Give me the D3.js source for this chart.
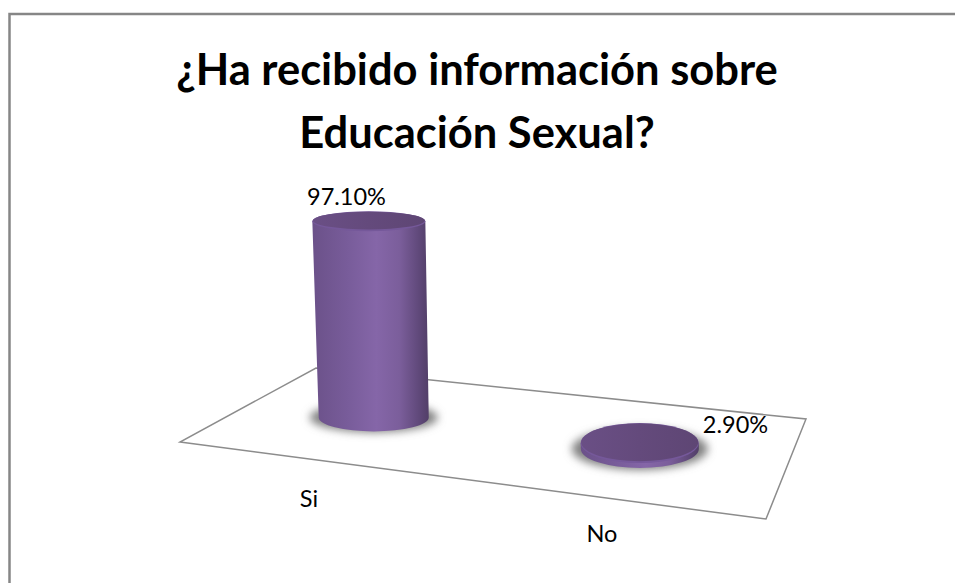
<!DOCTYPE html>
<meta charset="utf-8">
<style>
body { margin: 0; background: #fff; overflow: hidden; }
svg { display: block; }
text { font-family: Lato, sans-serif; fill: #000; }
.title { font-size: 43.5px; font-weight: 700; text-anchor: middle; }
.label { font-size: 23.5px; text-anchor: middle; }
</style>
<body>
<script src="https://d3js.org/d3.v7.min.js"></script>
<script>
var categories = ["Si", "No"];
var values = [97.1, 2.9];
var valueLabels = ["97.10%", "2.90%"];
var titleLines = ["¿Ha recibido información sobre", "Educación Sexual?"];

var width = 955, height = 583;

var svg = d3.select("body").append("svg")
    .attr("width", width)
    .attr("height", height);

var defs = svg.append("defs");

// cylinder side shading
var grad = defs.append("linearGradient").attr("id", "side");
[[0, "#6b5189"], [0.3, "#785c9a"], [0.55, "#8566a8"], [0.75, "#7b5e9b"], [0.92, "#5f4879"], [1, "#523f68"]].forEach(function(s) {
  grad.append("stop").attr("offset", s[0]).attr("stop-color", s[1]);
});
var topGrad = defs.append("linearGradient").attr("id", "top");
[[0, "#6a4f85"], [0.5, "#644a7c"], [1, "#5e4674"]].forEach(function(s) {
  topGrad.append("stop").attr("offset", s[0]).attr("stop-color", s[1]);
});
defs.append("filter").attr("id", "blur")
    .attr("x", "-20%").attr("y", "-50%").attr("width", "140%").attr("height", "200%")
  .append("feGaussianBlur").attr("stdDeviation", 4);

// outer frame, runs off the right and bottom of the picture
svg.append("rect")
    .attr("x", 9.5).attr("y", 14)
    .attr("width", 1000).attr("height", 640)
    .attr("fill", "#fff")
    .attr("stroke", "#868686")
    .attr("stroke-width", 2.5);

// title
svg.selectAll(".title").data(titleLines).enter().append("text")
    .attr("class", "title")
    .attr("x", 477)
    .attr("y", function(d, i) { return 85 + i * 63; })
    .text(function(d) { return d; });

// floor is a skewed quadrilateral, u runs along the categories, v runs front to back
var floorCorners = { fl: [180, 442], fr: [766, 519], br: [806, 419], bl: [316, 368] };
function floor(u, v) {
  var fx = floorCorners.fl[0] + (floorCorners.fr[0] - floorCorners.fl[0]) * u,
      fy = floorCorners.fl[1] + (floorCorners.fr[1] - floorCorners.fl[1]) * u,
      bx = floorCorners.bl[0] + (floorCorners.br[0] - floorCorners.bl[0]) * u,
      by = floorCorners.bl[1] + (floorCorners.br[1] - floorCorners.bl[1]) * u;
  return [fx + (bx - fx) * v, fy + (by - fy) * v];
}

var x = d3.scalePoint().domain(categories).range([0.228, 0.725]);
var h = d3.scaleLinear().domain([0, 100]).range([0, 202]);

svg.append("path")
    .attr("d", d3.line()([floorCorners.fl, floorCorners.fr, floorCorners.br, floorCorners.bl]) + "Z")
    .attr("fill", "none")
    .attr("stroke", "#8c8c8c")
    .attr("stroke-width", 1.5);

var data = categories.map(function(c, i) {
  return { name: c, value: values[i], label: valueLabels[i] };
});

// ellipse radii of base and top per bar
var baseRx = [55, 59], baseRy = [14, 19], topRx = [56.5, 59], topRy = [10, 20];
var shadowRx = [64, 68], shadowRy = [15, 21];

var bars = svg.selectAll(".bar").data(data).enter().append("g").attr("class", "bar");

bars.each(function(d, i) {
  var g = d3.select(this),
      base = floor(x(d.name), 0.527),
      bh = h(d.value),
      lean = bh * 0.025, // top leans left a little, perspective
      ty = base[1] - bh,
      tc = base[0] - lean;

  g.append("ellipse")
      .attr("cx", base[0]).attr("cy", base[1])
      .attr("rx", shadowRx[i]).attr("ry", shadowRy[i])
      .attr("fill", "#808080")
      .attr("filter", "url(#blur)");

  g.append("path")
      .attr("d", "M" + (tc - topRx[i]) + "," + ty + "L" + (base[0] - baseRx[i]) + "," + base[1] +
        "A" + baseRx[i] + "," + baseRy[i] + " 0 0 0 " + (base[0] + baseRx[i]) + "," + base[1] +
        "L" + (tc + topRx[i]) + "," + ty + "Z")
      .attr("fill", "url(#side)");

  // lighter bevel, then the flat dark cap
  g.append("ellipse")
      .attr("cx", tc).attr("cy", ty)
      .attr("rx", topRx[i]).attr("ry", topRy[i])
      .attr("fill", "#75589a");
  g.append("ellipse")
      .attr("cx", tc).attr("cy", ty - 0.7)
      .attr("rx", topRx[i] - 0.5).attr("ry", topRy[i] - 1.2)
      .attr("fill", "url(#top)");
});

// value labels
svg.selectAll(".value").data(data).enter().append("text")
    .attr("class", "label value")
    .attr("x", function(d, i) { return [346.5, 735.5][i]; })
    .attr("y", function(d, i) { return [205, 433][i]; })
    .text(function(d) { return d.label; });

// category labels
svg.selectAll(".cat").data(data).enter().append("text")
    .attr("class", "label cat")
    .attr("x", function(d, i) { return [309, 602][i]; })
    .attr("y", function(d, i) { return [507, 542][i]; })
    .text(function(d) { return d.name; });
</script>
